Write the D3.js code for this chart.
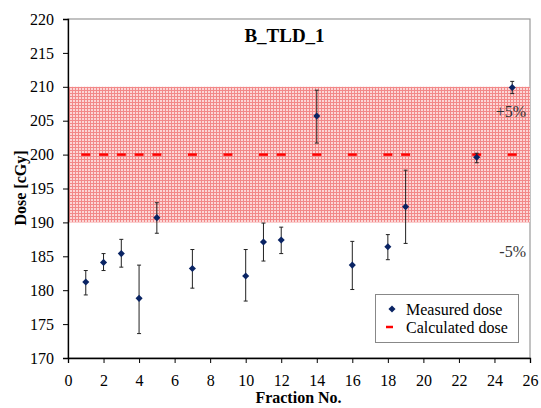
<!DOCTYPE html>
<html><head><meta charset="utf-8">
<script src="https://cdn.jsdelivr.net/npm/d3@7"></script>
</head><body style="margin:0"><svg id="c" width="541" height="408" font-family="Liberation Serif"></svg>
<script>
const title = "B_TLD_1";
const fractions = [1, 2, 3, 4, 5, 7, 10, 11, 12, 14, 16, 18, 19, 23, 25];
const measured = [181.2, 184.1, 185.4, 178.8, 190.7, 183.2, 182.1, 187.1, 187.4, 205.7, 183.7, 186.4, 192.3, 199.6, 209.9];
const errHigh = [182.9, 185.4, 187.5, 183.7, 192.9, 186.0, 186.0, 189.9, 189.3, 209.5, 187.2, 188.2, 197.7, 200.2, 210.8];
const errLow = [179.3, 182.9, 183.4, 173.6, 188.4, 180.3, 178.4, 184.3, 185.4, 201.7, 180.1, 184.5, 186.9, 198.8, 209.0];
const calcFractions = [1, 2, 3, 4, 5, 7, 9, 11, 12, 14, 16, 18, 19, 23, 25];
const calculated = [200, 200, 200, 200, 200, 200, 200, 200, 200, 200, 200, 200, 200, 200, 200];
const bandLow = 190, bandHigh = 210;
const xTicks = [0, 2, 4, 6, 8, 10, 12, 14, 16, 18, 20, 22, 24, 26];
const yTicks = [170, 175, 180, 185, 190, 195, 200, 205, 210, 215, 220];
const legendLabels = ["Measured dose", "Calculated dose"];

const FONT = "Liberation Serif";
const svg = d3.select("#c").style("display", "block");
const L = 68, R = 530, T = 19, B = 358;
const x = d3.scaleLinear().domain([0, 26]).range([L, R]);
const y = d3.scaleLinear().domain([170, 220]).range([B, T]);

const defs = svg.append("defs");
const pat = defs.append("pattern").attr("id", "hatch").attr("patternUnits", "userSpaceOnUse")
  .attr("width", 3).attr("height", 3);
pat.append("rect").attr("width", 3).attr("height", 3).attr("fill", "#fcd6d6");
pat.append("rect").attr("x", 0).attr("y", 0).attr("width", 1).attr("height", 3).attr("fill", "#f28888");
pat.append("rect").attr("x", 0).attr("y", 0).attr("width", 3).attr("height", 1).attr("fill", "#f28888");

svg.append("rect").attr("x", L).attr("y", T).attr("width", R - L).attr("height", B - T)
  .attr("fill", "none").attr("stroke", "#999").attr("stroke-width", 1.2);

svg.append("rect").attr("x", L + 1).attr("y", y(bandHigh)).attr("width", R - L - 1)
  .attr("height", y(bandLow) - y(bandHigh)).attr("fill", "url(#hatch)");

const yAxis = d3.axisLeft(y).tickValues(yTicks).tickSize(5).tickPadding(9);
const xAxis = d3.axisBottom(x).tickValues(xTicks).tickSize(5).tickPadding(12);
const gy = svg.append("g").attr("transform", `translate(${L},0)`).call(yAxis);
const gx = svg.append("g").attr("transform", `translate(0,${B})`).call(xAxis);
[gx, gy].forEach(g => {
  g.attr("font-family", FONT).attr("font-size", 16);
  g.select(".domain").attr("stroke", "#000").attr("stroke-width", 1.3);
  g.selectAll(".tick line").attr("stroke", "#000");
  g.selectAll(".tick text").attr("font-family", FONT).style("font-family", FONT).attr("font-size", 16).attr("fill", "#000");
});

svg.append("g").selectAll("line").data(calcFractions).join("line")
  .attr("x1", (d) => x(d) - 4.5).attr("x2", (d) => x(d) + 4.5)
  .attr("y1", (d, i) => y(calculated[i])).attr("y2", (d, i) => y(calculated[i]))
  .attr("stroke", "#ff0000").attr("stroke-width", 2.5);

const eb = svg.append("g").attr("stroke", "#222").attr("stroke-width", 1);
fractions.forEach((f, i) => {
  eb.append("line").attr("x1", x(f)).attr("x2", x(f)).attr("y1", y(errHigh[i])).attr("y2", y(errLow[i]));
  eb.append("line").attr("x1", x(f) - 2).attr("x2", x(f) + 2).attr("y1", y(errHigh[i])).attr("y2", y(errHigh[i]));
  eb.append("line").attr("x1", x(f) - 2).attr("x2", x(f) + 2).attr("y1", y(errLow[i])).attr("y2", y(errLow[i]));
});

const diamond = d3.symbol().type(d3.symbolDiamond2).size(32);
svg.append("g").selectAll("path").data(fractions).join("path")
  .attr("d", diamond)
  .attr("transform", (d, i) => `translate(${x(d)},${y(measured[i])})`)
  .attr("fill", "#0a2464");

function txt(xp, yp, s, size, anchor, bold) {
  const t = svg.append("text").attr("x", xp).attr("y", yp).attr("text-anchor", anchor)
    .attr("font-family", FONT).style("font-family", FONT).attr("font-size", size)
    .attr("fill", "#000").text(s);
  if (bold) t.attr("font-weight", "bold");
  return t;
}
txt(284.5, 42, title, 19, "middle", true);
txt(526, 117, "+5%", 16, "end", false).attr("fill", "#333");
txt(526, 257, "-5%", 16, "end", false).attr("fill", "#333");
txt(298.5, 403, "Fraction No.", 16, "middle", true);
txt(0, 0, "Dose [cGy]", 16, "middle", true).attr("transform", "translate(26,188) rotate(-90)");

const lg = svg.append("g");
lg.append("rect").attr("x", 375.5).attr("y", 294.5).attr("width", 143).attr("height", 48)
  .attr("fill", "#fff").attr("stroke", "#888");
lg.append("path").attr("d", diamond).attr("transform", "translate(392,309)").attr("fill", "#0a2464");
lg.append("line").attr("x1", 386).attr("x2", 393).attr("y1", 327).attr("y2", 327)
  .attr("stroke", "#ff0000").attr("stroke-width", 2.5);
txt(406, 315, legendLabels[0], 16, "start", false);
txt(406, 333, legendLabels[1], 16, "start", false);
</script></body></html>
